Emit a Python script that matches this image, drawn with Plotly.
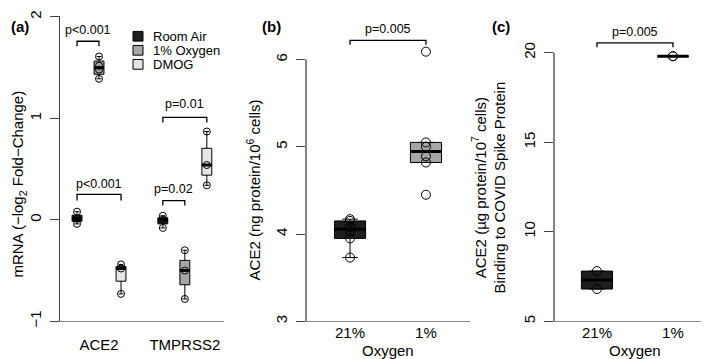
import numpy as np
import plotly.graph_objects as go

# ---------------- data ----------------
genes = ["ACE2", "TMPRSS2"]
conditions = ["Room Air", "1% Oxygen", "DMOG"]

ace2_room_air = [0.08, 0.01, -0.04]
ace2_oxygen1 = [1.61, 1.52, 1.48, 1.39]
ace2_dmog = [-0.44, -0.48, -0.73]
tmprss2_room_air = [0.04, 0.00, -0.08]
tmprss2_oxygen1 = [-0.30, -0.50, -0.78]
tmprss2_dmog = [0.87, 0.54, 0.34]

oxygen_labels = ["21%", "1%"]
protein_21 = [4.17, 4.15, 4.08, 4.03, 3.95, 3.73]
protein_1 = [6.09, 5.05, 5.00, 4.89, 4.82, 4.45]
binding_21 = [7.8, 6.8]
binding_1 = [19.8, 19.8]

pvals_a = ["p<0.001", "p<0.001", "p=0.02", "p=0.01"]
pval_b = "p=0.005"
pval_c = "p=0.005"

# ---------------- style ----------------
W, H = 709, 359
FONT = "Liberation Sans, Arial, sans-serif"
fills = {"Room Air": "#1e1e1e", "1% Oxygen": "#a6a6a6", "DMOG": "#e6e6e6"}


def px_x(p):
    return p / W


def px_y(p):
    return 1 - p / H


data_a = {
    ("ACE2", "Room Air"): ace2_room_air,
    ("ACE2", "1% Oxygen"): ace2_oxygen1,
    ("ACE2", "DMOG"): ace2_dmog,
    ("TMPRSS2", "Room Air"): tmprss2_room_air,
    ("TMPRSS2", "1% Oxygen"): tmprss2_oxygen1,
    ("TMPRSS2", "DMOG"): tmprss2_dmog,
}
group_center = {"ACE2": 2.0, "TMPRSS2": 5.9}
offset = {"Room Air": -1.0, "1% Oxygen": 0.0, "DMOG": 1.0}
BW_A = 0.45
BW_BC = 0.41

fig = go.Figure()
shapes = []
annotations = []


def add_box(xs, ys, fill, xa, ya, width, msize):
    fig.add_trace(go.Box(
        x=xs, y=ys, xaxis=xa, yaxis=ya, width=width, fillcolor=fill,
        line=dict(color="black", width=1), boxpoints="outliers",
        marker=dict(opacity=0, size=1), whiskerwidth=0.5,
        quartilemethod="inclusive", showlegend=False, hoverinfo="skip"))
    fig.add_trace(go.Scatter(
        x=xs, y=ys, xaxis=xa, yaxis=ya, mode="markers",
        marker=dict(symbol="circle-open", size=msize, color="black",
                    line=dict(width=1, color="black")),
        showlegend=False, hoverinfo="skip"))


def add_median(pos, vals, width, xa, ya):
    m = float(np.median(vals))
    shapes.append(dict(type="line", xref=xa, yref=ya, x0=pos - width / 2,
                       x1=pos + width / 2, y0=m, y1=m,
                       line=dict(color="black", width=3), layer="above"))


def add_bracket(x1, x2, ytop, yleg, text, ytext, xa, ya):
    shapes.append(dict(type="path", xref=xa, yref=ya,
                       path=f"M {x1},{yleg} L {x1},{ytop} L {x2},{ytop} L {x2},{yleg}",
                       line=dict(color="black", width=1.3)))
    annotations.append(dict(x=(x1 + x2) / 2, y=ytext, xref=xa, yref=ya, text=text,
                            xanchor="center", yanchor="middle",
                            showarrow=False, font=dict(size=12.5, family=FONT, color="black")))


# ---------------- panel (a) ----------------
for cond in conditions:
    xs, ys = [], []
    for g in genes:
        vals = data_a[(g, cond)]
        pos = group_center[g] + offset[cond]
        xs += [pos] * len(vals)
        ys += vals
        add_median(pos, vals, BW_A, "x", "y")
    add_box(xs, ys, fills[cond], "x", "y", BW_A, 7)

xa1 = group_center["ACE2"] + offset["Room Air"]
xa2 = group_center["ACE2"] + offset["1% Oxygen"]
xa3 = group_center["ACE2"] + offset["DMOG"]
xt1 = group_center["TMPRSS2"] + offset["Room Air"]
xt2 = group_center["TMPRSS2"] + offset["1% Oxygen"]
xt3 = group_center["TMPRSS2"] + offset["DMOG"]
add_bracket(xa1, xa2, 1.76, 1.71, pvals_a[0], 1.87, "x", "y")
add_bracket(xa1, xa3, 0.25, 0.19, pvals_a[1], 0.35, "x", "y")
add_bracket(xt1, xt2, 0.19, 0.14, pvals_a[2], 0.30, "x", "y")
add_bracket(xt1, xt3, 1.01, 0.96, pvals_a[3], 1.14, "x", "y")

# legend (manual)
for i, cond in enumerate(conditions):
    yc = 24 + 14.5 * i
    shapes.append(dict(type="rect", xref="paper", yref="paper",
                       x0=px_x(125), x1=px_x(135), y0=px_y(yc + 5), y1=px_y(yc - 5),
                       fillcolor=fills[cond], line=dict(color="black", width=1)))
    annotations.append(dict(x=px_x(143), y=px_y(yc), xref="paper", yref="paper",
                            text=cond, xanchor="left", yanchor="middle", showarrow=False,
                            font=dict(size=13, family=FONT, color="black")))

# ---------------- panel (b) ----------------
add_box([1] * len(protein_21), protein_21, fills["Room Air"], "x2", "y2", BW_BC, 9)
add_box([2] * len(protein_1), protein_1, fills["1% Oxygen"], "x2", "y2", BW_BC, 9)
add_median(1, protein_21, BW_BC, "x2", "y2")
add_median(2, protein_1, BW_BC, "x2", "y2")
add_bracket(1, 2, 6.22, 6.17, pval_b, 6.35, "x2", "y2")

# ---------------- panel (c) ----------------
add_box([1] * len(binding_21), binding_21, fills["Room Air"], "x3", "y3", BW_BC, 9)
add_box([2] * len(binding_1), binding_1, fills["1% Oxygen"], "x3", "y3", BW_BC, 9)
add_median(1, binding_21, BW_BC, "x3", "y3")
add_median(2, binding_1, BW_BC, "x3", "y3")
add_bracket(1, 2, 20.54, 20.30, pval_c, 21.15, "x3", "y3")

# y axis lines for (b) and (c), drawn from lowest to highest tick
shapes.append(dict(type="line", xref="x2 domain", yref="y2", x0=0, x1=0, y0=3, y1=6,
                   line=dict(color="#444", width=1.3)))
shapes.append(dict(type="line", xref="x3 domain", yref="y3", x0=0, x1=0, y0=5, y1=20,
                   line=dict(color="#444", width=1.3)))

# titles / panel labels
tfont = dict(size=15, family=FONT, color="black")


def pa(x, y, text, angle=0, xanchor="center", size=15):
    return dict(x=px_x(x), y=px_y(y), xref="paper", yref="paper", text=text,
                textangle=angle, xanchor=xanchor, yanchor="middle", showarrow=False,
                font=dict(size=size, family=FONT, color="black"))


annotations += [
    pa(11, 177, "mRNA (\u2212log<sub>2</sub> Fold\u2212Change)", -90),
    pa(245, 183, "ACE2 (ng protein/10<sup>6</sup> cells)", -90),
    pa(481, 180, "ACE2 (\u00b5g protein/10<sup>7</sup> cells)<br>Binding to COVID Spike Protein", -90),
    pa(380, 348, "Oxygen"),
    pa(627, 348, "Oxygen"),
    pa(1, 14, "<b>(a)</b>", xanchor="left"),
    pa(263, 14, "<b>(b)</b>"),
    pa(493, 14, "<b>(c)</b>"),
]

ydom = [px_y(318), px_y(3)]
xcommon = dict(showgrid=False, zeroline=False, ticks="", showline=True,
               linecolor="#8a8a8a", linewidth=1, tickfont=tfont)
ycommon = dict(showgrid=False, zeroline=False, ticks="outside", ticklen=9,
               tickcolor="#444", tickwidth=1.2, tickangle=-90, tickfont=tfont,
               ticklabelstandoff=3, ticklabeloverflow="allow", showline=True,
               linewidth=1.3)

fig.update_layout(
    width=W, height=H, margin=dict(l=0, r=0, t=0, b=0),
    paper_bgcolor="white", plot_bgcolor="white", showlegend=False,
    font=dict(family=FONT, color="black"),
    xaxis=dict(domain=[px_x(52), px_x(216)], range=[0.227, 7.68], anchor="y",
               tickvals=[group_center[g] for g in genes], ticktext=genes,
               ticklabelstandoff=10, **xcommon),
    yaxis=dict(domain=ydom, range=[-1, 2.01], anchor="x", tickvals=[-1, 0, 1, 2],
               linecolor="#444", **ycommon),
    xaxis2=dict(domain=[px_x(298), px_x(462)], range=[0.42, 2.58], anchor="y2",
                tickvals=[1, 2], ticktext=oxygen_labels, ticklabelstandoff=-2, **xcommon),
    yaxis2=dict(domain=ydom, range=[3, 6.5], anchor="x2", tickvals=[3, 4, 5, 6],
                linecolor="rgba(0,0,0,0)", **ycommon),
    xaxis3=dict(domain=[px_x(546), 1.0], range=[0.434, 2.58], anchor="y3",
                tickvals=[1, 2], ticktext=oxygen_labels, ticklabelstandoff=-2, **xcommon),
    yaxis3=dict(domain=ydom, range=[5, 22.05], anchor="x3", tickvals=[5, 10, 15, 20],
                linecolor="rgba(0,0,0,0)", **ycommon),
    shapes=shapes, annotations=annotations,
)

fig.write_html("out.html")
